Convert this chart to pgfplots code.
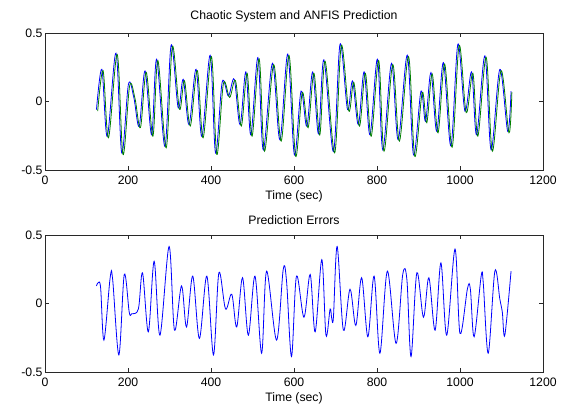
\documentclass[border=0pt]{standalone}
\usepackage{fontspec}
\setmainfont{Liberation Sans}
\usepackage{pgfplots}
\usepackage{pgfplotstable}
\pgfplotsset{compat=1.18}

\pgfplotstableread{
t v
124 -0.06
137 0.235
150 -0.255
171 0.353
185 -0.377
201 0.125
214 0.03
227 -0.18
241 0.223
257 -0.243
269 0.309
289 -0.328
304 0.412
321 -0.047
333 0.162
347 -0.169
364 0.235
378 -0.255
398 0.338
411 -0.377
427 0.142
442 0.04
456 0.162
470 -0.169
484 0.216
496 -0.243
513 0.321
526 -0.353
548 0.279
566 -0.279
585 0.346
601 -0.39
617 0.076
631 -0.181
645 0.216
659 -0.235
672 0.304
695 -0.365
711 0.419
729 -0.059
741 0.15
755 -0.169
769 0.216
783 -0.243
801 0.309
814 -0.353
835 0.279
851 -0.279
873 0.338
888 -0.39
906 0.076
917 -0.145
930 0.211
944 -0.218
960 0.284
978 -0.324
995 0.419
1012 -0.071
1028 0.216
1040 -0.243
1060 0.333
1075 -0.353
1096 0.235
1115 -0.218
1123 0.076
}\actual

\pgfplotstableread{
t v
127 -0.07
140 0.225
153 -0.265
174 0.343
188 -0.387
204 0.115
217 0.02
230 -0.19
244 0.213
260 -0.253
272 0.299
292 -0.338
307 0.402
324 -0.057
336 0.152
350 -0.179
367 0.225
381 -0.265
401 0.328
414 -0.387
430 0.132
445 0.03
459 0.152
473 -0.179
487 0.206
499 -0.253
516 0.311
529 -0.363
551 0.269
569 -0.289
588 0.336
604 -0.40
620 0.066
634 -0.191
648 0.206
662 -0.245
675 0.294
698 -0.375
714 0.409
732 -0.069
744 0.14
758 -0.179
772 0.206
786 -0.253
804 0.299
817 -0.363
838 0.269
854 -0.289
876 0.328
891 -0.40
909 0.066
920 -0.155
933 0.201
947 -0.228
963 0.274
981 -0.334
998 0.409
1015 -0.081
1031 0.206
1043 -0.253
1063 0.323
1078 -0.363
1099 0.225
1118 -0.228
1125 0.066
}\predicted

\pgfplotstableread{
t v
124 0.128
128 0.152
134 0.116
142 -0.267
157 0.188
163 0.176
178 -0.375
191 0.212
203 -0.064
209 -0.075
225 -0.04
235 0.224
249 -0.207
263 0.308
277 -0.231
299 0.416
312 -0.195
329 0.128
341 -0.171
356 0.2
372 -0.255
390 0.2
406 -0.375
419 0.224
435 -0.04
450 0.068
462 -0.171
476 0.188
490 -0.231
506 0.2
522 -0.363
534 0.236
558 -0.267
574 0.248
582 0.164
594 -0.387
606 0.2
624 -0.1
639 0.212
651 -0.207
667 0.32
677 -0.231
687 -0.04
691 -0.11
695 -0.10
704 0.416
719 -0.195
735 0.104
749 -0.16
763 0.188
778 -0.243
793 0.2
807 -0.363
825 0.236
846 -0.291
862 0.212
872 0.176
882 -0.387
896 0.224
912 -0.1
925 0.188
940 -0.195
954 0.296
968 -0.231
988 0.397
1000 -0.219
1018 0.109
1025 0.104
1034 -0.243
1051 0.2
1056 0.152
1068 -0.363
1084 0.236
1096 0.032
1102 -0.064
1108 -0.231
1123 0.236
}\errors

\definecolor{mblue}{RGB}{0,0,255}
\definecolor{mgreen}{RGB}{0,128,0}
\definecolor{axgray}{RGB}{40,40,40}

\pgfplotsset{
  mstyle/.style={
    scale only axis,
    width=498bp, height=137bp,
    anchor=south west,
    xmin=0, xmax=1200, ymin=-0.5, ymax=0.5,
    xtick={0,200,400,600,800,1000,1200},
    xticklabels={0,200,400,600,800,1000,1200},
    ytick={-0.5,0,0.5},
    yticklabels={-0.5,0,0.5},
    tick align=inside,
    major tick length=4bp,
    axis line style={axgray, line width=0.6bp},
    tick style={axgray, line width=0.6bp},
    tick label style={font=\fontsize{12.3}{14}\selectfont},
    label style={font=\fontsize{12.3}{14}\selectfont},
    title style={font=\fontsize{12.3}{14}\selectfont, yshift=1bp},
    xticklabel style={yshift=-2bp},
    yticklabel style={xshift=1bp},
    xlabel style={yshift=0bp},
    xlabel={Time (sec)},
  }
}

\begin{document}
\begin{tikzpicture}
\path[use as bounding box] (0,0) rectangle (566bp,-412bp);
\begin{axis}[mstyle, at={(45bp,-170bp)}, title={Chaotic System and ANFIS Prediction}]
\addplot[mblue, line width=0.8bp, smooth, tension=0.55] table[x=t,y=v] {\actual};
\addplot[mgreen, line width=0.8bp, smooth, tension=0.55] table[x=t,y=v] {\predicted};
\end{axis}
\begin{axis}[mstyle, at={(45bp,-372bp)}, title={Prediction Errors}]
\addplot[mblue, line width=0.8bp, smooth, tension=0.55] table[x=t,y=v] {\errors};
\end{axis}
\end{tikzpicture}
\end{document}
